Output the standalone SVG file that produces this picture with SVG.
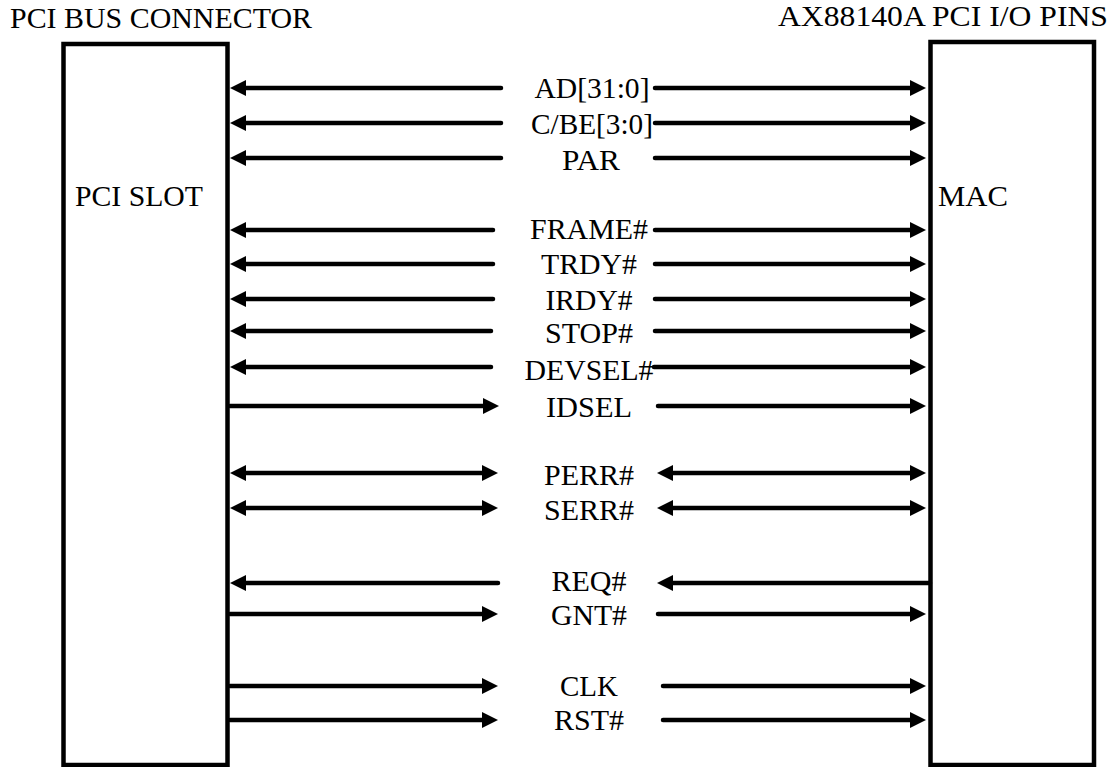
<svg xmlns="http://www.w3.org/2000/svg" width="1117" height="767" viewBox="0 0 1117 767">
<style>
  .box { fill: #fff; stroke: #000; stroke-width: 4.5; }
  .lbl { font-family: "Liberation Serif", "Times New Roman", serif; font-size: 29.5px; fill: #000; }
  .mid { text-anchor: middle; }
  .w { fill: none; stroke: #000; stroke-width: 4.5; stroke-linecap: round; }
  .e { marker-end: url(#ah); }
  .s { marker-start: url(#ahs); }
</style>
<defs>
  <marker id="ah" markerUnits="userSpaceOnUse" markerWidth="16" markerHeight="16" refX="0" refY="8" orient="auto" overflow="visible">
    <path d="M0,0 L16,8 L0,16 z" fill="#000"/>
  </marker>
  <marker id="ahs" markerUnits="userSpaceOnUse" markerWidth="16" markerHeight="16" refX="0" refY="8" orient="auto-start-reverse" overflow="visible">
    <path d="M0,0 L16,8 L0,16 z" fill="#000"/>
  </marker>
</defs>
<rect width="1117" height="767" fill="#fff"/>

<g id="title-left"><text class="lbl" x="10" y="28" textLength="302" lengthAdjust="spacingAndGlyphs">PCI BUS CONNECTOR</text></g>
<g id="title-right"><text class="lbl" x="778" y="26" textLength="330" lengthAdjust="spacingAndGlyphs">AX88140A PCI I/O PINS</text></g>

<g id="pci-slot">
  <rect class="box" x="63.5" y="44" width="164" height="721"/>
  <text class="lbl" x="75" y="206" textLength="128" lengthAdjust="spacingAndGlyphs">PCI SLOT</text>
</g>
<g id="mac">
  <rect class="box" x="930.5" y="42" width="163.5" height="723"/>
  <text class="lbl" x="938" y="206" textLength="70" lengthAdjust="spacingAndGlyphs">MAC</text>
</g>

<g id="signal-labels">
  <text class="lbl mid" x="592" y="98" textLength="115" lengthAdjust="spacingAndGlyphs">AD[31:0]</text>
  <text class="lbl mid" x="592" y="134" textLength="122" lengthAdjust="spacingAndGlyphs">C/BE[3:0]</text>
  <text class="lbl mid" x="591" y="170" textLength="58" lengthAdjust="spacingAndGlyphs">PAR</text>
  <text class="lbl mid" x="589" y="239" textLength="118" lengthAdjust="spacingAndGlyphs">FRAME#</text>
  <text class="lbl mid" x="589" y="274" textLength="96" lengthAdjust="spacingAndGlyphs">TRDY#</text>
  <text class="lbl mid" x="589" y="310" textLength="87" lengthAdjust="spacingAndGlyphs">IRDY#</text>
  <text class="lbl mid" x="589" y="343" textLength="88" lengthAdjust="spacingAndGlyphs">STOP#</text>
  <text class="lbl mid" x="589" y="380" textLength="129" lengthAdjust="spacingAndGlyphs">DEVSEL#</text>
  <text class="lbl mid" x="589" y="417" textLength="86" lengthAdjust="spacingAndGlyphs">IDSEL</text>
  <text class="lbl mid" x="589" y="485" textLength="90" lengthAdjust="spacingAndGlyphs">PERR#</text>
  <text class="lbl mid" x="589" y="520" textLength="90" lengthAdjust="spacingAndGlyphs">SERR#</text>
  <text class="lbl mid" x="589" y="591" textLength="75" lengthAdjust="spacingAndGlyphs">REQ#</text>
  <text class="lbl mid" x="589" y="625" textLength="76" lengthAdjust="spacingAndGlyphs">GNT#</text>
  <text class="lbl mid" x="589" y="696" textLength="58" lengthAdjust="spacingAndGlyphs">CLK</text>
  <text class="lbl mid" x="589" y="730" textLength="70" lengthAdjust="spacingAndGlyphs">RST#</text>
</g>

<g id="connectors">
  <!-- left side -->
  <path class="w s" d="M246,88 H501"/>
  <path class="w s" d="M246,123 H501"/>
  <path class="w s" d="M246,158 H501"/>
  <path class="w s" d="M246,230 H493"/>
  <path class="w s" d="M246,264 H493"/>
  <path class="w s" d="M246,299 H493"/>
  <path class="w s" d="M246,331 H491"/>
  <path class="w s" d="M246,367 H491"/>
  <path class="w e" d="M230,406 H483"/>
  <path class="w s e" d="M246,473 H482"/>
  <path class="w s e" d="M246,508 H482"/>
  <path class="w s" d="M246,583 H498"/>
  <path class="w e" d="M230,614 H482"/>
  <path class="w e" d="M230,686 H482"/>
  <path class="w e" d="M230,720 H482"/>
  <!-- right side -->
  <path class="w e" d="M655,88 H910"/>
  <path class="w e" d="M655,123 H910"/>
  <path class="w e" d="M655,158 H910"/>
  <path class="w e" d="M655,230 H910"/>
  <path class="w e" d="M655,264 H910"/>
  <path class="w e" d="M655,299 H910"/>
  <path class="w e" d="M655,331 H910"/>
  <path class="w e" d="M654,367 H910"/>
  <path class="w e" d="M658,406 H910"/>
  <path class="w s e" d="M673,473 H910"/>
  <path class="w s e" d="M673,508 H910"/>
  <path class="w s" d="M673,583 H930"/>
  <path class="w e" d="M658,614 H910"/>
  <path class="w e" d="M663,686 H910"/>
  <path class="w e" d="M663,720 H910"/>
</g>
</svg>
